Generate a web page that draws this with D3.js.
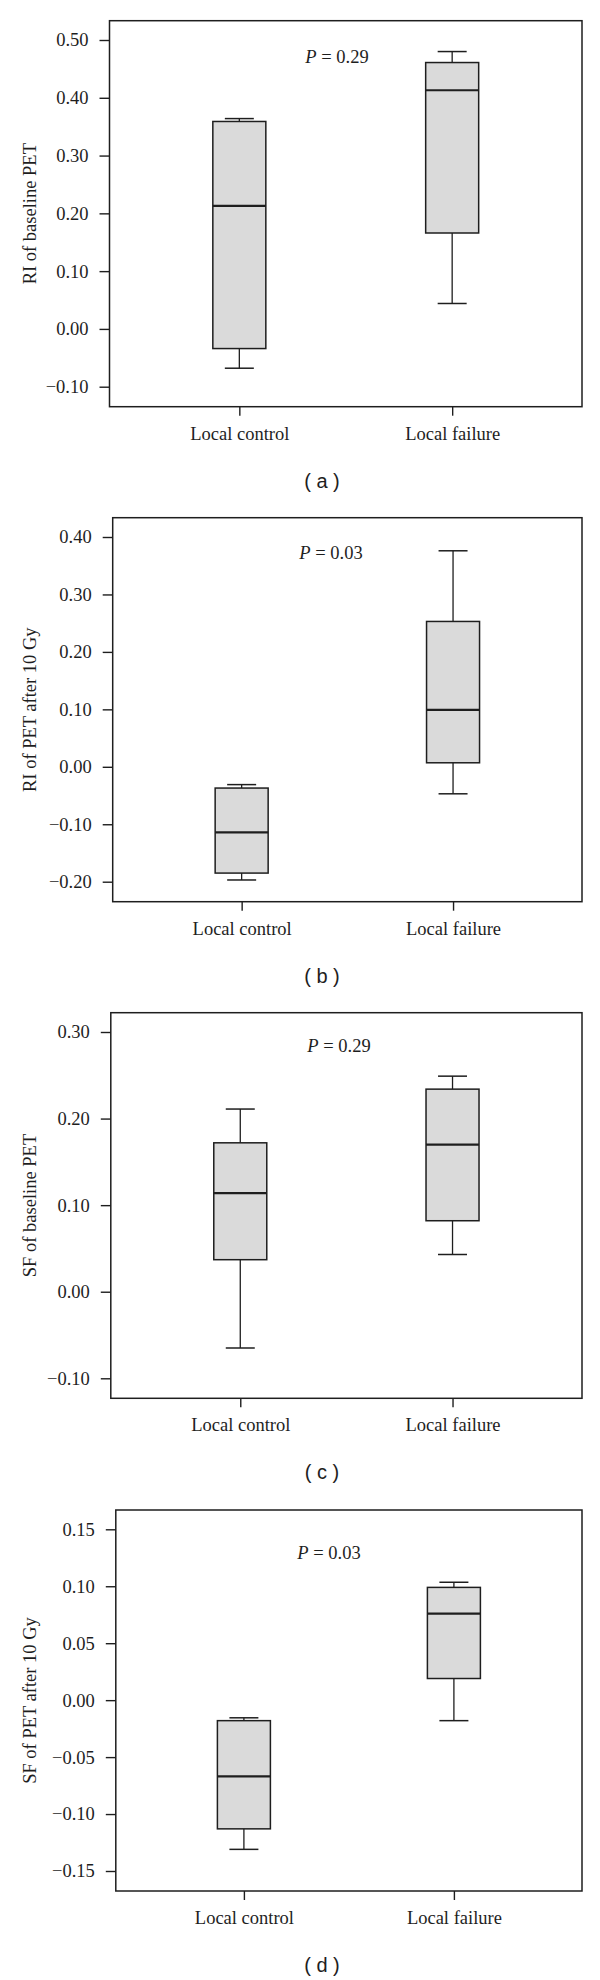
<!DOCTYPE html>
<html>
<head>
<meta charset="utf-8">
<script src="https://cdn.jsdelivr.net/npm/d3@7"></script>
<style>
  html, body { margin: 0; padding: 0; background: #fff; }
  svg { display: block; }
</style>
</head>
<body>
<svg id="chart" width="600" height="1980"></svg>
<script>
// ---------------- DATA ----------------
const categories = ["Local control", "Local failure"];
const panelLabels = ["( a )", "( b )", "( c )", "( d )"];
const yTitles = ["RI of baseline PET", "RI of PET after 10 Gy", "SF of baseline PET", "SF of PET after 10 Gy"];
const pValues = ["0.29", "0.03", "0.29", "0.03"];

// five-number summaries: [lower whisker, Q1, median, Q3, upper whisker]
const riBaselineControl = [-0.068, -0.034, 0.213, 0.359, 0.364];
const riBaselineFailure = [0.044, 0.166, 0.413, 0.461, 0.480];
const riAfterControl    = [-0.197, -0.185, -0.114, -0.037, -0.031];
const riAfterFailure    = [-0.047, 0.007, 0.099, 0.253, 0.376];
const sfBaselineControl = [-0.065, 0.037, 0.114, 0.172, 0.211];
const sfBaselineFailure = [0.043, 0.082, 0.170, 0.234, 0.249];
const sfAfterControl    = [-0.131, -0.113, -0.067, -0.018, -0.0155];
const sfAfterFailure    = [-0.018, 0.019, 0.076, 0.099, 0.1035];

const ticksA = [-0.10, 0.00, 0.10, 0.20, 0.30, 0.40, 0.50];
const ticksB = [-0.20, -0.10, 0.00, 0.10, 0.20, 0.30, 0.40];
const ticksC = [-0.10, 0.00, 0.10, 0.20, 0.30];
const ticksD = [-0.15, -0.10, -0.05, 0.00, 0.05, 0.10, 0.15];

// ---------------- LAYOUT ----------------
const panels = [
  { frame: {l: 109.5, t: 20.7,   r: 582, b: 406.7},  ticks: ticksA, data: [riBaselineControl, riBaselineFailure], px: 337, pdy: 42 },
  { frame: {l: 112.7, t: 517.7,  r: 582, b: 901.7},  ticks: ticksB, data: [riAfterControl, riAfterFailure],       px: 331, pdy: 41.3 },
  { frame: {l: 110.8, t: 1012.7, r: 582, b: 1398.3}, ticks: ticksC, data: [sfBaselineControl, sfBaselineFailure], px: 339, pdy: 39 },
  { frame: {l: 115.8, t: 1510,   r: 582, b: 1891},   ticks: ticksD, data: [sfAfterControl, sfAfterFailure],       px: 329, pdy: 48.7 }
];

const serif = "'Liberation Serif', 'Times New Roman', serif";
const sans = "'Liberation Sans', Arial, sans-serif";
const ink = "#1e1e1e";
const boxFill = "#dadada";
const boxW = 53, capW = 29;
const fmt = d3.format(".2f");

const svg = d3.select("#chart");

panels.forEach((p, i) => {
  const f = p.frame;
  const g = svg.append("g");

  const y = d3.scaleLinear()
    .domain([d3.min(p.ticks), d3.max(p.ticks)])
    .range([f.b - 20, f.t + 19.3]);
  const x = d3.scalePoint()
    .domain(categories)
    .range([f.l, f.r])
    .padding(0.61);

  // frame
  g.append("rect")
    .attr("x", f.l).attr("y", f.t)
    .attr("width", f.r - f.l).attr("height", f.b - f.t)
    .attr("fill", "none").attr("stroke", ink).attr("stroke-width", 1.5);

  // y axis
  const ya = g.append("g")
    .attr("transform", `translate(${f.l},0)`)
    .call(d3.axisLeft(y).tickValues(p.ticks).tickFormat(fmt).tickSize(10).tickPadding(11));
  ya.select(".domain").remove();
  ya.selectAll("line").attr("stroke", ink).attr("stroke-width", 1.4);
  ya.selectAll("text").attr("font-family", serif).attr("font-size", 18.5).attr("fill", ink);

  // x axis
  const xa = g.append("g")
    .attr("transform", `translate(0,${f.b})`)
    .call(d3.axisBottom(x).tickSize(9).tickPadding(11));
  xa.select(".domain").remove();
  xa.selectAll("line").attr("stroke", ink).attr("stroke-width", 1.4);
  xa.selectAll("text").attr("font-family", serif).attr("font-size", 18.5).attr("fill", ink);

  // boxes
  categories.forEach((c, j) => {
    const s = p.data[j];
    const cx = x(c);
    // whiskers
    g.append("line").attr("x1", cx).attr("x2", cx).attr("y1", y(s[3])).attr("y2", y(s[4]))
      .attr("stroke", ink).attr("stroke-width", 1.3);
    g.append("line").attr("x1", cx).attr("x2", cx).attr("y1", y(s[1])).attr("y2", y(s[0]))
      .attr("stroke", ink).attr("stroke-width", 1.3);
    g.append("line").attr("x1", cx - capW / 2).attr("x2", cx + capW / 2).attr("y1", y(s[4])).attr("y2", y(s[4]))
      .attr("stroke", ink).attr("stroke-width", 1.5);
    g.append("line").attr("x1", cx - capW / 2).attr("x2", cx + capW / 2).attr("y1", y(s[0])).attr("y2", y(s[0]))
      .attr("stroke", ink).attr("stroke-width", 1.5);
    // box
    g.append("rect")
      .attr("x", cx - boxW / 2).attr("y", y(s[3]))
      .attr("width", boxW).attr("height", y(s[1]) - y(s[3]))
      .attr("fill", boxFill).attr("stroke", ink).attr("stroke-width", 1.5);
    // median
    g.append("line").attr("x1", cx - boxW / 2).attr("x2", cx + boxW / 2).attr("y1", y(s[2])).attr("y2", y(s[2]))
      .attr("stroke", ink).attr("stroke-width", 2.2);
  });

  // P value annotation
  const pt = g.append("text")
    .attr("x", p.px).attr("y", f.t + p.pdy)
    .attr("text-anchor", "middle")
    .attr("font-family", serif).attr("font-size", 18.5).attr("fill", ink);
  pt.append("tspan").attr("font-style", "italic").text("P");
  pt.append("tspan").text(" = " + pValues[i]);

  // y title
  g.append("text")
    .attr("transform", `translate(36,${(f.t + f.b) / 2}) rotate(-90)`)
    .attr("text-anchor", "middle")
    .attr("font-family", serif).attr("font-size", 18.5).attr("fill", ink)
    .text(yTitles[i]);

  // panel label
  g.append("text")
    .attr("x", 322).attr("y", f.b + 81)
    .attr("text-anchor", "middle")
    .attr("font-family", sans).attr("font-size", 20).attr("fill", ink)
    .attr("xml:space", "preserve")
    .text(panelLabels[i]);
});
</script>
</body>
</html>
